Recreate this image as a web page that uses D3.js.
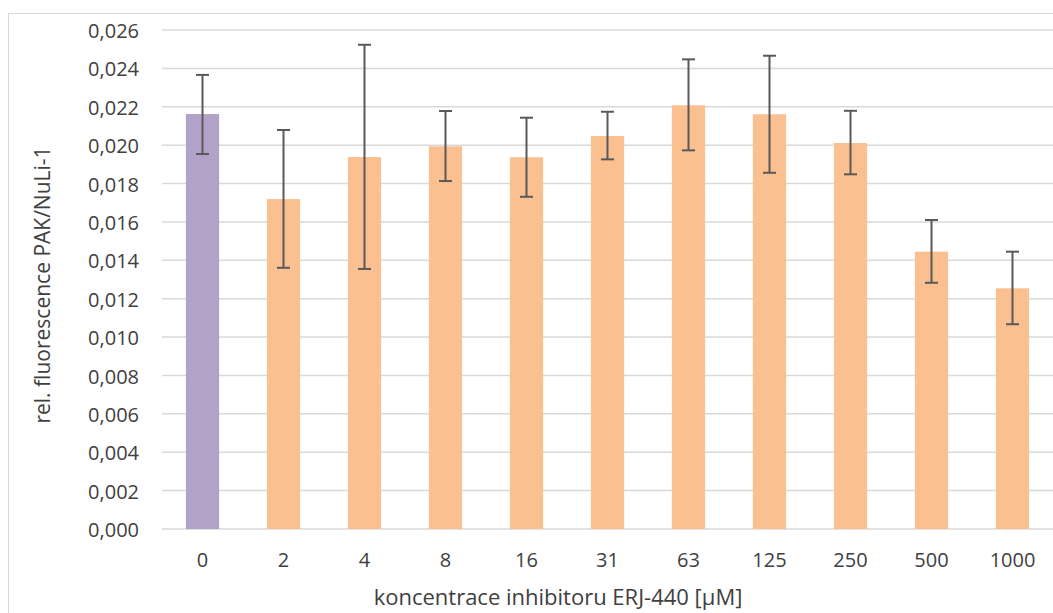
<!DOCTYPE html>
<html>
<head>
<meta charset="utf-8">
<script src="https://cdn.jsdelivr.net/npm/d3@7"></script>
<style>
  body { margin: 0; background: #fff; }
  text { font-family: "Open Sans", sans-serif; fill: #404040; }
</style>
</head>
<body>
<div id="chart-area"></div>
<script>

// Data
var categories = ["0", "2", "4", "8", "16", "31", "63", "125", "250", "500", "1000"];
var values    = [0.02162, 0.01719, 0.01938, 0.01994, 0.01937, 0.02048, 0.02208, 0.02161, 0.02011, 0.01445, 0.01254];
var errHigh   = [0.02366, 0.02079, 0.02523, 0.02178, 0.02143, 0.02174, 0.02447, 0.02466, 0.02179, 0.01610, 0.01445];
var errLow    = [0.01954, 0.01361, 0.01355, 0.01813, 0.01731, 0.01926, 0.01973, 0.01856, 0.01848, 0.01283, 0.01067];
var yTicks    = [0, 0.002, 0.004, 0.006, 0.008, 0.010, 0.012, 0.014, 0.016, 0.018, 0.020, 0.022, 0.024, 0.026];

var data = categories.map(function(c, i) {
  return { cat: c, value: values[i], hi: errHigh[i], lo: errLow[i] };
});

// SVG Size
var width = 1053,
    height = 613;

var plot = { left: 162, right: 1053, top: 30, bottom: 529 };

var svg = d3.select("#chart-area").append("svg")
    .attr("width", width)
    .attr("height", height);

// Chart frame
svg.append("rect")
    .attr("x", 8.5)
    .attr("y", 13.5)
    .attr("width", width)
    .attr("height", height)
    .attr("fill", "none")
    .attr("stroke", "#d9d9d9")
    .attr("stroke-width", 1);

// Scales
var x = d3.scaleBand()
    .domain(categories)
    .range([plot.left, plot.right])
    .paddingInner(0.59)
    .paddingOuter(0.295);

var y = d3.scaleLinear()
    .domain([0, 0.026])
    .range([plot.bottom, plot.top]);

// Gridlines
svg.append("g")
    .selectAll("line")
    .data(yTicks)
    .enter()
    .append("line")
    .attr("x1", plot.left)
    .attr("x2", plot.right)
    .attr("y1", function(d){ return y(d); })
    .attr("y2", function(d){ return y(d); })
    .attr("stroke", "#d9d9d9")
    .attr("stroke-width", 1.5);

// Bars
svg.append("g")
    .selectAll("rect")
    .data(data)
    .enter()
    .append("rect")
    .attr("x", function(d){ return x(d.cat); })
    .attr("y", function(d){ return y(d.value); })
    .attr("width", x.bandwidth())
    .attr("height", function(d){ return y(0) - y(d.value); })
    .attr("fill", function(d, i){ return i === 0 ? "#b3a2c7" : "#fac090"; });

// Error bars
var err = svg.append("g")
    .selectAll("g")
    .data(data)
    .enter()
    .append("g")
    .attr("stroke", "#595959")
    .attr("stroke-width", 2);

err.append("line")
    .attr("x1", function(d){ return x(d.cat) + x.bandwidth() / 2; })
    .attr("x2", function(d){ return x(d.cat) + x.bandwidth() / 2; })
    .attr("y1", function(d){ return y(d.hi); })
    .attr("y2", function(d){ return y(d.lo); });

["hi", "lo"].forEach(function(k) {
  err.append("line")
    .attr("x1", function(d){ return x(d.cat) + x.bandwidth() / 2 - 6.5; })
    .attr("x2", function(d){ return x(d.cat) + x.bandwidth() / 2 + 6.5; })
    .attr("y1", function(d){ return y(d[k]); })
    .attr("y2", function(d){ return y(d[k]); });
});

// Axes
var yAxis = d3.axisLeft(y)
    .tickValues(yTicks)
    .tickSize(0)
    .tickPadding(0)
    .tickFormat(function(d){ return d3.format(".3f")(d).replace(".", ","); });

var yG = svg.append("g")
    .attr("transform", "translate(139,0)")
    .call(yAxis);
yG.select(".domain").remove();
yG.selectAll("text")
    .style("font-size", "20px")
    .attr("dy", "0.38em")
    .attr("fill", "#404040");

var xAxis = d3.axisBottom(x).tickSize(0).tickPadding(0);

var xG = svg.append("g")
    .attr("transform", "translate(0,567)")
    .call(xAxis);
xG.select(".domain").remove();
xG.selectAll("text")
    .style("font-size", "20px")
    .attr("dy", "0")
    .attr("fill", "#404040");

// Axis titles
svg.append("text")
    .attr("x", 558)
    .attr("y", 605)
    .attr("text-anchor", "middle")
    .style("font-size", "22px")
    .text("koncentrace inhibitoru ERJ-440 [\u00b5M]");

svg.append("text")
    .attr("transform", "translate(50,285) rotate(-90)")
    .attr("text-anchor", "middle")
    .style("font-size", "21px")
    .text("rel. fluorescence PAK/NuLi-1");

</script>
</body>
</html>
